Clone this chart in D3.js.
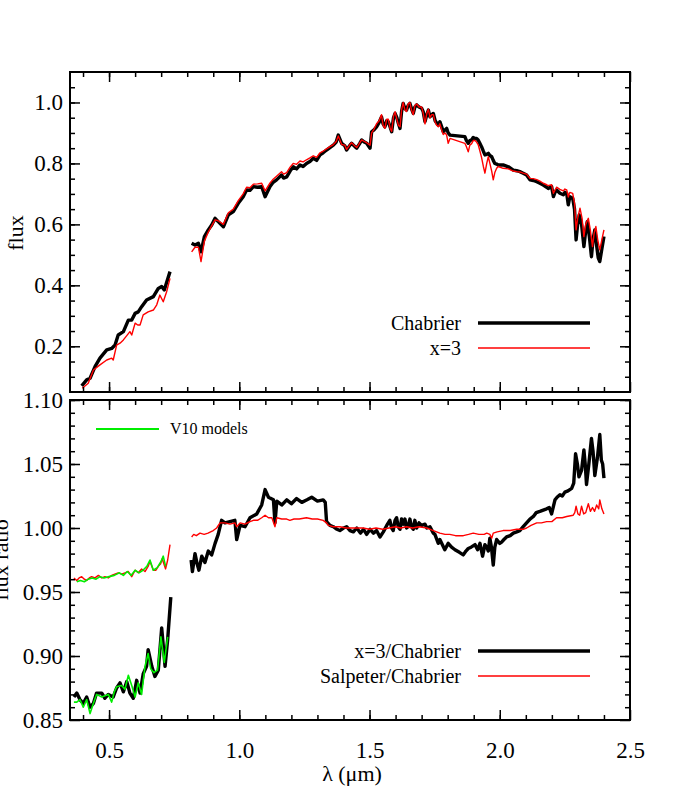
<!DOCTYPE html>
<html>
<head>
<meta charset="utf-8">
<script src="https://cdn.jsdelivr.net/npm/d3@7"></script>
<style>
  body { margin: 0; background: #fff; }
  svg text { font-family: "Liberation Serif", "Times New Roman", serif; fill: #000; }
</style>
</head>
<body>
<div id="chart"></div>
<script>
// ---- data (null = gap between spectral segments) ----
const chabrierWave = [0.395,0.414,0.427,0.446,0.465,0.491,0.51,0.523,0.535,0.555,0.574,0.587,0.6,0.612,0.625,0.644,0.67,0.689,0.702,0.712,0.734,null,
  0.817,0.83,0.843,0.853,0.866,0.881,0.894,0.907,0.919,0.939,0.958,0.977,0.996,1.015,1.028,1.041,1.054,1.07,1.086,1.099,1.118,1.13,1.143,1.162,1.17,1.182,1.195,1.207,1.22,1.233,1.245,1.258,1.271,1.284,1.297,1.31,1.322,1.335,1.348,1.361,1.372,1.38,1.393,1.405,1.412,1.425,1.431,1.444,1.451,1.462,1.47,1.48,1.489,1.502,1.508,1.517,1.527,1.537,1.546,1.552,1.559,1.566,1.572,1.579,1.585,1.592,1.598,1.605,1.611,1.617,1.623,1.629,1.636,1.642,1.648,1.655,1.661,1.668,1.674,1.681,1.69,1.7,1.706,1.713,1.72,1.726,1.732,1.739,1.745,1.752,1.758,1.764,1.77,1.777,1.783,1.79,1.796,1.802,1.809,1.866,1.872,1.879,1.885,1.892,1.898,1.905,1.911,1.917,1.924,1.93,1.937,1.943,1.95,1.956,1.962,1.969,1.975,1.981,1.988,1.994,2.013,2.033,2.052,2.065,2.077,2.09,2.103,2.116,2.129,2.142,2.154,2.167,2.18,2.186,2.199,2.206,2.212,2.218,2.231,2.244,2.25,2.257,2.263,2.269,2.28,2.287,2.293,2.299,2.305,2.314,2.323,2.33,2.336,2.344,2.352,2.358,2.365,2.372,2.378,2.384,2.392,2.4];
const chabrierFlux = [0.07,0.09,0.095,0.133,0.161,0.188,0.193,0.204,0.237,0.248,0.286,0.286,0.308,0.313,0.33,0.352,0.363,0.39,0.396,0.385,0.445,null,
  0.538,0.532,0.538,0.51,0.56,0.582,0.598,0.62,0.609,0.592,0.631,0.642,0.669,0.691,0.713,0.712,0.724,0.722,0.724,0.691,0.724,0.738,0.746,0.762,0.752,0.756,0.775,0.789,0.782,0.795,0.79,0.8,0.806,0.817,0.81,0.828,0.835,0.844,0.852,0.86,0.87,0.893,0.866,0.858,0.844,0.86,0.866,0.855,0.85,0.865,0.877,0.87,0.866,0.85,0.904,0.91,0.92,0.935,0.953,0.93,0.92,0.94,0.937,0.92,0.904,0.95,0.964,0.95,0.93,0.915,0.97,0.997,0.98,0.975,0.99,0.997,0.98,0.964,0.985,0.992,0.985,0.981,0.97,0.937,0.96,0.975,0.953,0.96,0.964,0.94,0.932,0.926,0.937,0.92,0.904,0.91,0.915,0.9,0.893,0.888,0.875,0.866,0.875,0.877,0.885,0.882,0.882,0.877,0.865,0.855,0.84,0.828,0.83,0.833,0.826,0.822,0.81,0.8,0.798,0.795,0.795,0.789,0.778,0.776,0.773,0.768,0.762,0.746,0.744,0.74,0.735,0.729,0.722,0.718,0.724,0.691,0.705,0.713,0.702,0.697,0.705,0.702,0.664,0.691,0.686,0.65,0.549,0.6,0.631,0.6,0.527,0.58,0.609,0.56,0.494,0.55,0.582,0.53,0.49,0.478,0.52,0.56];

const x3Wave = [0.397,0.42,0.44,0.465,0.491,0.51,0.516,0.529,0.542,0.555,0.568,0.58,0.587,0.6,0.61,0.619,0.631,0.65,0.67,0.683,0.695,0.708,0.721,0.734,null,
  0.817,0.83,0.843,0.853,0.866,0.881,0.894,0.907,0.919,0.939,0.958,0.977,0.996,1.015,1.028,1.041,1.054,1.07,1.086,1.099,1.118,1.13,1.143,1.162,1.17,1.182,1.195,1.207,1.22,1.233,1.245,1.258,1.271,1.284,1.297,1.31,1.322,1.335,1.348,1.361,1.372,1.38,1.393,1.405,1.412,1.425,1.431,1.444,1.451,1.462,1.47,1.48,1.489,1.502,1.508,1.517,1.527,1.537,1.546,1.552,1.559,1.566,1.572,1.579,1.585,1.592,1.598,1.605,1.611,1.617,1.623,1.629,1.636,1.642,1.648,1.655,1.661,1.668,1.674,1.681,1.69,1.7,1.706,1.713,1.72,1.726,1.732,1.739,1.745,1.752,1.758,1.764,1.77,1.777,1.783,1.79,1.796,1.802,1.809,1.866,1.872,1.879,1.885,1.892,1.898,1.905,1.911,1.917,1.924,1.93,1.937,1.943,1.95,1.956,1.962,1.969,1.975,1.981,1.988,1.994,2.013,2.033,2.052,2.065,2.077,2.09,2.103,2.116,2.129,2.142,2.154,2.167,2.18,2.186,2.199,2.206,2.212,2.218,2.231,2.244,2.25,2.257,2.263,2.269,2.28,2.287,2.293,2.299,2.308,2.316,2.323,2.33,2.34,2.348,2.356,2.362,2.369,2.376,2.384,2.392,2.4];
const x3Flux = [0.062,0.079,0.122,0.139,0.155,0.161,0.155,0.204,0.21,0.221,0.235,0.248,0.237,0.276,0.27,0.27,0.303,0.313,0.319,0.336,0.368,0.346,0.379,0.423,null,
  0.51,0.525,0.525,0.478,0.545,0.575,0.595,0.615,0.612,0.6,0.638,0.65,0.678,0.7,0.722,0.72,0.732,0.733,0.735,0.71,0.736,0.748,0.758,0.773,0.765,0.77,0.788,0.8,0.797,0.808,0.805,0.812,0.818,0.825,0.82,0.835,0.84,0.848,0.855,0.862,0.872,0.89,0.862,0.86,0.846,0.862,0.868,0.857,0.852,0.867,0.877,0.872,0.868,0.86,0.9,0.912,0.93,0.94,0.96,0.925,0.915,0.945,0.945,0.915,0.905,0.955,0.97,0.945,0.925,0.92,0.975,1.0,0.975,0.97,0.995,1.0,0.975,0.96,0.99,0.995,0.985,0.985,0.965,0.93,0.965,0.978,0.95,0.96,0.96,0.935,0.925,0.92,0.93,0.91,0.895,0.9,0.893,0.866,0.882,0.866,0.855,0.838,0.86,0.865,0.875,0.875,0.87,0.862,0.84,0.82,0.79,0.768,0.8,0.822,0.8,0.775,0.746,0.77,0.784,0.79,0.784,0.782,0.775,0.773,0.772,0.768,0.765,0.751,0.75,0.747,0.742,0.735,0.73,0.727,0.73,0.702,0.712,0.722,0.715,0.71,0.716,0.713,0.69,0.705,0.702,0.67,0.582,0.62,0.653,0.62,0.56,0.6,0.62,0.58,0.527,0.57,0.593,0.55,0.516,0.55,0.582];

const ratioX3Wave = [0.365,0.376,0.388,0.401,0.414,0.427,0.44,0.452,0.472,0.484,0.497,0.516,0.529,0.542,0.555,0.568,0.58,0.593,0.606,0.619,0.631,0.644,0.65,0.664,0.676,0.689,0.702,0.715,0.725,0.737,null,
  0.815,0.82,0.83,0.838,0.845,0.856,0.868,0.881,0.894,0.907,0.919,0.932,0.945,0.964,0.983,0.99,1.003,1.022,1.041,1.067,1.086,1.099,1.112,1.131,1.137,1.144,1.163,1.182,1.2,1.22,1.24,1.26,1.278,1.3,1.322,1.33,1.335,1.348,1.361,1.375,1.386,1.4,1.412,1.425,1.438,1.451,1.465,1.477,1.489,1.502,1.515,1.527,1.54,1.553,1.566,1.578,1.585,1.591,1.598,1.604,1.61,1.617,1.623,1.63,1.636,1.642,1.648,1.655,1.661,1.668,1.674,1.681,1.69,1.7,1.713,1.72,1.732,1.745,1.751,1.764,1.77,1.789,1.802,1.815,1.828,1.845,1.86,1.87,1.879,1.89,1.905,1.915,1.924,1.934,1.943,1.95,1.956,1.962,1.968,1.975,1.981,1.988,2.0,2.007,2.016,2.026,2.04,2.052,2.065,2.077,2.09,2.103,2.116,2.129,2.14,2.154,2.167,2.18,2.19,2.199,2.212,2.22,2.231,2.24,2.25,2.262,2.276,2.284,2.291,2.298,2.304,2.314,2.323,2.328,2.333,2.342,2.352,2.358,2.365,2.375,2.384,2.39,2.395,2.4];
const ratioX3 = [0.868,0.871,0.866,0.863,0.868,0.86,0.863,0.871,0.871,0.867,0.87,0.868,0.875,0.879,0.872,0.88,0.871,0.867,0.881,0.871,0.886,0.892,0.905,0.892,0.884,0.889,0.922,0.892,0.913,0.946,null,
  0.975,0.966,0.98,0.972,0.967,0.978,0.973,0.982,0.979,0.988,0.995,1.006,1.004,1.005,1.006,0.991,1.002,1.001,1.008,1.011,1.018,1.03,1.024,1.022,1.004,1.021,1.018,1.022,1.019,1.023,1.02,1.022,1.024,1.021,1.022,1.02,1.005,1.002,1.001,0.999,0.998,1.0,1.001,0.998,0.997,1.0,0.996,0.999,0.995,0.999,0.996,0.998,0.993,0.997,1.002,1.006,1.0,0.998,1.006,1.008,1.001,0.999,1.007,1.003,1.007,1.0,1.001,1.007,1.001,0.999,1.006,1.0,1.004,1.002,1.003,1.0,1.001,0.996,0.995,0.988,0.991,0.983,0.988,0.985,0.983,0.981,0.979,0.982,0.984,0.985,0.987,0.983,0.988,0.978,0.987,0.985,0.982,0.992,0.985,0.971,0.985,0.991,0.988,0.989,0.991,0.993,0.994,0.996,0.997,0.998,1.001,1.004,1.007,1.009,1.012,1.013,1.014,1.015,1.016,1.011,1.022,1.024,1.026,1.025,1.028,1.029,1.031,1.035,1.058,1.05,1.04,1.045,1.061,1.05,1.034,1.05,1.07,1.06,1.041,1.055,1.073,1.053,1.05,1.039];

const ratioSalWave = [0.365,0.376,0.385,0.395,0.405,0.414,0.424,0.433,0.446,0.459,0.472,0.484,0.497,0.51,0.522,0.535,0.548,0.561,0.574,0.587,0.6,0.612,0.625,0.638,0.65,0.657,0.67,0.68,0.689,0.698,0.704,0.717,0.725,0.734,null,
  0.817,0.825,0.835,0.849,0.865,0.88,0.9,0.913,0.926,0.945,0.964,0.983,0.99,1.003,1.022,1.041,1.054,1.07,1.086,1.099,1.112,1.125,1.137,1.144,1.163,1.182,1.194,1.21,1.23,1.258,1.28,1.3,1.322,1.335,1.342,1.361,1.386,1.41,1.43,1.451,1.475,1.5,1.525,1.55,1.575,1.6,1.62,1.642,1.665,1.69,1.72,1.745,1.77,1.79,1.808,1.83,1.86,1.88,1.898,1.92,1.94,1.95,1.962,1.969,1.975,1.99,2.013,2.04,2.065,2.09,2.103,2.12,2.142,2.16,2.18,2.2,2.218,2.24,2.257,2.282,2.288,2.293,2.3,2.307,2.314,2.322,2.33,2.34,2.348,2.356,2.364,2.372,2.38,2.384,2.392,2.4];
const ratioSal = [0.961,0.959,0.961,0.962,0.96,0.959,0.961,0.962,0.961,0.963,0.961,0.962,0.961,0.963,0.964,0.965,0.964,0.965,0.966,0.962,0.967,0.965,0.968,0.966,0.97,0.974,0.967,0.967,0.97,0.972,0.976,0.968,0.975,0.987,null,
  0.993,0.995,0.994,0.996,0.995,0.996,0.998,1.0,1.004,1.004,1.003,1.004,1.001,1.004,1.003,1.005,1.006,1.006,1.008,1.01,1.008,1.008,1.001,1.008,1.007,1.007,1.006,1.007,1.007,1.008,1.007,1.007,1.006,1.004,1.002,1.001,1.001,1.0,1.0,1.0,1.0,0.999,1.0,0.999,1.0,1.001,1.0,1.001,1.0,1.001,1.0,0.998,0.996,0.995,0.995,0.994,0.994,0.995,0.996,0.995,0.995,0.996,0.995,0.992,0.996,0.997,0.998,0.998,0.999,0.999,1.0,1.002,1.004,1.004,1.005,1.005,1.008,1.008,1.009,1.01,1.012,1.017,1.011,1.01,1.017,1.011,1.012,1.019,1.013,1.016,1.013,1.018,1.015,1.022,1.015,1.011];

const v10Wave = [0.365,0.376,0.388,0.401,0.414,0.427,0.44,0.452,0.472,0.484,0.497,0.51,0.52,0.529,0.548,0.561,0.574,0.587,0.6,0.612,0.625,0.638,0.65,0.66,0.672,0.686,0.699,0.712,0.725,null,
  0.376,0.39,0.405,0.42,0.435,0.45,0.465,0.48,0.5,0.52,0.54,0.555,0.57,0.585,0.6,0.615,0.63,0.645,0.657,0.67,0.685,0.7,0.708,0.717];
const v10Ratio = [0.864,0.864,0.866,0.86,0.866,0.855,0.863,0.87,0.868,0.869,0.87,0.864,0.872,0.876,0.877,0.874,0.885,0.877,0.868,0.879,0.87,0.892,0.902,0.89,0.887,0.889,0.915,0.895,0.915,null,
  0.958,0.959,0.958,0.96,0.961,0.96,0.962,0.961,0.962,0.963,0.965,0.963,0.966,0.963,0.967,0.965,0.967,0.97,0.975,0.967,0.969,0.974,0.978,0.97];

const xTicks = [0.5, 1.0, 1.5, 2.0, 2.5];
const fluxTicks = [0.2, 0.4, 0.6, 0.8, 1.0];
const ratioTicks = [0.85, 0.90, 0.95, 1.00, 1.05, 1.10];

// ---- layout ----
const W = 700, H = 800;
const left = 70, right = 630;
const top1 = 72, bot1 = 392, top2 = 400, bot2 = 720;
const fs = 23;

const svg = d3.select("#chart").append("svg").attr("width", W).attr("height", H);

const x = d3.scaleLinear().domain([0.35, 2.5]).range([left, right]);
const yFlux = d3.scaleLinear().domain([0.05, 1.1]).range([bot1, top1]);
const yRatio = d3.scaleLinear().domain([0.85, 1.10]).range([bot2, top2]);

const minorX = d3.range(0.4, 2.5, 0.1).map(v => +v.toFixed(2));
const minorFlux = d3.range(0.1, 1.1, 0.05).map(v => +v.toFixed(2));
const minorRatio = d3.range(0.86, 1.10, 0.01).map(v => +v.toFixed(2));

function styleAxis(g) {
  g.select(".domain").remove();
  g.selectAll("line").attr("stroke", "#000").attr("stroke-width", 1.5);
  g.selectAll("text").style("font-family", '"Liberation Serif", serif').style("font-size", fs + "px").attr("fill", "#000");
  g.attr("font-size", null).attr("font-family", null);
}

function panel(yScale, yTop, yBot, majorY, minorY, fmt, showX) {
  // minor ticks
  svg.append("g").attr("transform", `translate(0,${yBot})`).call(d3.axisBottom(x).tickValues(minorX).tickSize(-5).tickFormat("")).call(styleAxis);
  svg.append("g").attr("transform", `translate(0,${yTop})`).call(d3.axisTop(x).tickValues(minorX).tickSize(-5).tickFormat("")).call(styleAxis);
  svg.append("g").attr("transform", `translate(${left},0)`).call(d3.axisLeft(yScale).tickValues(minorY).tickSize(-5).tickFormat("")).call(styleAxis);
  svg.append("g").attr("transform", `translate(${right},0)`).call(d3.axisRight(yScale).tickValues(minorY).tickSize(-5).tickFormat("")).call(styleAxis);
  // major ticks
  svg.append("g").attr("transform", `translate(0,${yBot})`)
    .call(d3.axisBottom(x).tickValues(xTicks).tickSize(-10).tickPadding(22).tickFormat(showX ? d3.format(".1f") : "")).call(styleAxis);
  svg.append("g").attr("transform", `translate(0,${yTop})`).call(d3.axisTop(x).tickValues(xTicks).tickSize(-10).tickFormat("")).call(styleAxis);
  svg.append("g").attr("transform", `translate(${left},0)`)
    .call(d3.axisLeft(yScale).tickValues(majorY).tickSize(-10).tickPadding(7).tickFormat(d3.format(fmt))).call(styleAxis);
  svg.append("g").attr("transform", `translate(${right},0)`).call(d3.axisRight(yScale).tickValues(majorY).tickSize(-10).tickFormat("")).call(styleAxis);
  // frame
  svg.append("rect").attr("x", left).attr("y", yTop).attr("width", right - left).attr("height", yBot - yTop)
    .attr("fill", "none").attr("stroke", "#000").attr("stroke-width", 2);
}

function series(wave, vals, yScale, color, width) {
  const pts = wave.map((w, i) => [w, vals[i]]);
  const line = d3.line().defined(d => d[0] != null && d[1] != null).x(d => x(d[0])).y(d => yScale(d[1]));
  svg.append("path").datum(pts).attr("d", line).attr("fill", "none")
    .attr("stroke", color).attr("stroke-width", width).attr("stroke-linejoin", "round");
}

// top panel
series(chabrierWave, chabrierFlux, yFlux, "#000", 3.4);
series(x3Wave, x3Flux, yFlux, "#ff0000", 1.4);
panel(yFlux, top1, bot1, fluxTicks, minorFlux, ".1f", false);

// bottom panel
series(ratioX3Wave, ratioX3, yRatio, "#000", 3.4);
series(ratioSalWave, ratioSal, yRatio, "#ff0000", 1.4);
series(v10Wave, v10Ratio, yRatio, "#00ee00", 1.6);
panel(yRatio, top2, bot2, ratioTicks, minorRatio, ".2f", true);

// axis titles
svg.append("text").attr("transform", "translate(23,233) rotate(-90)").attr("text-anchor", "middle")
  .style("font-size", "22px").text("flux");
svg.append("text").attr("transform", "translate(8,560) rotate(-90)").attr("text-anchor", "middle")
  .style("font-size", "22px").text("flux ratio");
svg.append("text").attr("x", 352).attr("y", 781).attr("text-anchor", "middle")
  .style("font-size", "22px").text("λ (μm)");

// legends
function legendRow(label, yPos, color, width) {
  svg.append("text").attr("x", 461).attr("y", yPos + 7).attr("text-anchor", "end").style("font-size", "20px").text(label);
  svg.append("line").attr("x1", 478).attr("x2", 590).attr("y1", yPos).attr("y2", yPos)
    .attr("stroke", color).attr("stroke-width", width);
}
legendRow("Chabrier", 323, "#000", 3.3);
legendRow("x=3", 348, "#ff0000", 1.4);
legendRow("x=3/Chabrier", 651, "#000", 3.3);
legendRow("Salpeter/Chabrier", 676, "#ff0000", 1.4);

svg.append("line").attr("x1", 96).attr("x2", 159).attr("y1", 429).attr("y2", 429)
  .attr("stroke", "#00ee00").attr("stroke-width", 2);
svg.append("text").attr("x", 170).attr("y", 434).style("font-size", "16px").text("V10 models");
</script>
</body>
</html>
